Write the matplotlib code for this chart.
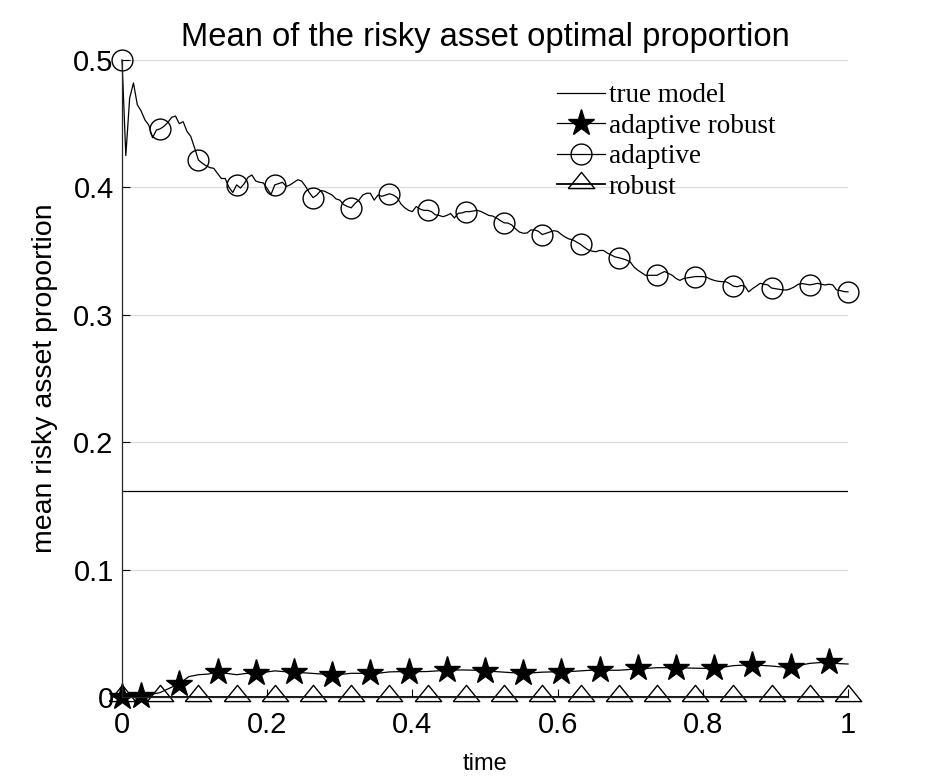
import numpy as np
import matplotlib
matplotlib.use("Agg")
import matplotlib.pyplot as plt

# ---------------- data ----------------
title = "Mean of the risky asset optimal proportion"
xlabel = "time"
ylabel = "mean risky asset proportion"
labels = ["true model", "adaptive robust", "adaptive", "robust"]
xticks = [0, 0.2, 0.4, 0.6, 0.8, 1]
xticklabels = ["0", "0.2", "0.4", "0.6", "0.8", "1"]
yticks = [0, 0.1, 0.2, 0.3, 0.4, 0.5]
yticklabels = ["0", "0.1", "0.2", "0.3", "0.4", "0.5"]

true_model_t = [0.0, 1.0]
true_model = [0.1615, 0.1615]

# adaptive: sampled at t = i/190
adaptive = [
    0.500, 0.425, 0.470, 0.482, 0.465, 0.460, 0.453, 0.449, 0.439, 0.445,
    0.446, 0.448, 0.451, 0.455, 0.456, 0.450, 0.4516, 0.444, 0.440, 0.431,
    0.4215, 0.419, 0.417, 0.4155, 0.415, 0.411, 0.407, 0.407, 0.400, 0.396,
    0.402, 0.3995, 0.403, 0.408, 0.4097, 0.405, 0.404, 0.4035, 0.399, 0.3945,
    0.402, 0.403, 0.404, 0.4007, 0.402, 0.404, 0.406, 0.405, 0.401, 0.396,
    0.392, 0.394, 0.3975, 0.397, 0.3955, 0.394, 0.391, 0.390, 0.3865, 0.385,
    0.384, 0.3875, 0.390, 0.394, 0.3954, 0.3954, 0.390, 0.394, 0.393, 0.394,
    0.395, 0.394, 0.392, 0.387, 0.384, 0.382, 0.381, 0.385, 0.383, 0.382,
    0.382, 0.381, 0.3785, 0.378, 0.377, 0.378, 0.3795, 0.376, 0.3797, 0.380,
    0.381, 0.381, 0.3815, 0.382, 0.381, 0.3795, 0.378, 0.3775, 0.376, 0.374,
    0.3722, 0.372, 0.3705, 0.3675, 0.365, 0.364, 0.3642, 0.3666, 0.3666, 0.3655,
    0.363, 0.364, 0.365, 0.366, 0.3655, 0.363, 0.361, 0.3595, 0.3588, 0.357,
    0.3553, 0.353, 0.351, 0.350, 0.3495, 0.3505, 0.3505, 0.3485, 0.347, 0.3455,
    0.3448, 0.344, 0.343, 0.3415, 0.3375, 0.335, 0.333, 0.331, 0.331, 0.331,
    0.331, 0.3325, 0.334, 0.3325, 0.331, 0.3285, 0.327, 0.3285, 0.329, 0.3295,
    0.330, 0.330, 0.330, 0.3295, 0.328, 0.327, 0.3263, 0.326, 0.326, 0.3245,
    0.3225, 0.322, 0.323, 0.3225, 0.318, 0.3205, 0.3225, 0.3247, 0.324, 0.3235,
    0.321, 0.3205, 0.320, 0.3195, 0.3195, 0.3205, 0.322, 0.324, 0.3245, 0.324,
    0.3235, 0.324, 0.3247, 0.324, 0.3234, 0.324, 0.3235, 0.3195, 0.319, 0.3182,
    0.318,
]

# adaptive robust: sampled at t = j/76
adaptive_robust = [
    0.0, 0.0005, 0.001, 0.002, 0.0035, 0.007, 0.0105, 0.016, 0.0175, 0.018,
    0.0195, 0.0185, 0.0175, 0.0185, 0.0186, 0.0195, 0.0205, 0.0199, 0.0194, 0.019,
    0.0185, 0.018, 0.0173, 0.0178, 0.0186, 0.0186, 0.0186, 0.0188, 0.0197, 0.0199,
    0.0199, 0.0199, 0.020, 0.0205, 0.0212, 0.0212, 0.0212, 0.021, 0.0205, 0.020,
    0.0195, 0.019, 0.0188, 0.019, 0.0195, 0.0197, 0.0195, 0.020, 0.0205, 0.021,
    0.0212, 0.021, 0.021, 0.0215, 0.0225, 0.0225, 0.023, 0.023, 0.023, 0.0228,
    0.0226, 0.0225, 0.0225, 0.0235, 0.0246, 0.025, 0.0251, 0.0248, 0.0243, 0.0236,
    0.0238, 0.025, 0.0264, 0.027, 0.0272, 0.0262, 0.0259,
]

# robust: sampled at t = k/19
robust = [0.0] * 20

# ---------------- plot ----------------
plt.rcParams["font.family"] = ["Liberation Sans", "DejaVu Sans"]

fig = plt.figure(figsize=(9.38, 7.81), dpi=100)
ax = fig.add_axes([122 / 938, 1 - 697 / 781, 726 / 938, 637 / 781])

t_ad = np.linspace(0, 1, len(adaptive))
t_ar = np.linspace(0, 1, len(adaptive_robust))
t_rb = np.linspace(0, 1, len(robust))

# wide, low triangle similar to the reference marker
tri = [(-1.0, -0.31), (1.0, -0.31), (0.0, 0.92), (-1.0, -0.31)]

lw = 0.9
ax.plot(true_model_t, true_model, color="black", lw=lw, label=labels[0])
ar_marks = [0] + list(range(2, len(adaptive_robust), 4))
ax.plot(t_ar, adaptive_robust, color="black", lw=lw, marker="*", ms=20,
        mfc="black", mec="black", markevery=ar_marks, clip_on=False,
        label=labels[1])
ax.plot(t_ad, adaptive, color="black", lw=lw, marker="o", ms=15,
        mfc="none", mec="black", mew=1.0, markevery=10, clip_on=False,
        label=labels[2])
ax.plot(t_rb, robust, color="black", lw=1.3, marker=tri, ms=19,
        mfc="none", mec="black", mew=1.0, clip_on=False, label=labels[3])

ax.set_xlim(0, 1)
ax.set_ylim(0, 0.5)
ax.set_xticks(xticks)
ax.set_xticklabels(xticklabels)
ax.set_yticks(yticks)
ax.set_yticklabels(yticklabels)
ax.tick_params(direction="in", length=6, width=0.8, labelsize=21)
ax.tick_params(axis="x", pad=10)
ax.tick_params(axis="y", pad=6)
ax.yaxis.grid(True, color="#dcdcdc", lw=0.9)
ax.xaxis.grid(False)
ax.set_axisbelow(True)
for s in ["top", "right"]:
    ax.spines[s].set_visible(False)
for s in ["left", "bottom"]:
    ax.spines[s].set_linewidth(0.9)
    ax.spines[s].set_color("#262626")

ax.set_title(title, fontsize=23.6, pad=10)
ax.set_xlabel(xlabel, fontsize=17, labelpad=10)
ax.set_ylabel(ylabel, fontsize=20.5, labelpad=11)

leg = ax.legend(loc="upper left", bbox_to_anchor=(0.592, 0.972), frameon=False,
                prop={"family": ["Liberation Serif", "DejaVu Serif"], "size": 19.5},
                handlelength=1.75, handletextpad=0.15, labelspacing=0.2,
                borderpad=0.2, borderaxespad=0.0)

fig.savefig("out.png", dpi=100, facecolor="white")
